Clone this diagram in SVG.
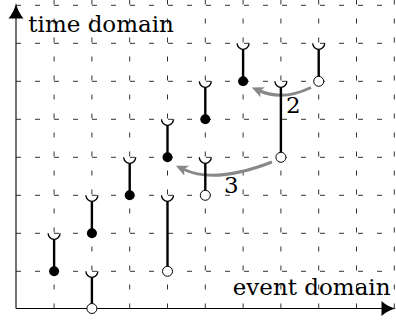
<svg xmlns="http://www.w3.org/2000/svg" width="396" height="322" viewBox="0 0 396 322">
<defs>
<style>
.grid line{stroke:#333;stroke-width:1;stroke-dasharray:5 14;fill:none}
.axis{stroke:#000;stroke-width:1.1;fill:none}
.seg{stroke:#000;stroke-width:2.4;fill:none}
.cup{stroke:#000;stroke-width:1.3;fill:none}
.full{fill:#000}
.hollow{fill:#fff;stroke:#000;stroke-width:1}
.move{stroke:#888;stroke-width:3;fill:none;marker-end:url(#ga)}
text{font-family:"DejaVu Serif","Liberation Serif",serif;font-size:23px;fill:#000}
</style>
<marker id="ga" markerUnits="userSpaceOnUse" markerWidth="14" markerHeight="12" refX="3" refY="6" orient="auto" viewBox="0 0 14 12">
<path d="M0,0.5 L12,6 L0,11.5 L3,6 Z" fill="#888"/>
</marker>
</defs>
<rect width="396" height="322" fill="#fff"/>
<g class="grid" id="grid">
<line x1="16" y1="271.3" x2="396" y2="271.3"/>
<line x1="16" y1="233.3" x2="396" y2="233.3"/>
<line x1="16" y1="195.3" x2="396" y2="195.3"/>
<line x1="16" y1="157.3" x2="396" y2="157.3"/>
<line x1="16" y1="119.3" x2="396" y2="119.3"/>
<line x1="16" y1="81.3" x2="396" y2="81.3"/>
<line x1="16" y1="43.3" x2="396" y2="43.3"/>
<line x1="16" y1="5.3" x2="396" y2="5.3"/>
<line x1="54.1" y1="308.5" x2="54.1" y2="0"/>
<line x1="91.9" y1="308.5" x2="91.9" y2="0"/>
<line x1="129.7" y1="308.5" x2="129.7" y2="0"/>
<line x1="167.5" y1="308.5" x2="167.5" y2="0"/>
<line x1="205.3" y1="308.5" x2="205.3" y2="0"/>
<line x1="243.1" y1="308.5" x2="243.1" y2="0"/>
<line x1="280.9" y1="308.5" x2="280.9" y2="0"/>
<line x1="318.7" y1="308.5" x2="318.7" y2="0"/>
<line x1="356.5" y1="308.5" x2="356.5" y2="0"/>
<line x1="394.3" y1="308.5" x2="394.3" y2="0"/>
</g>
<g id="axes">
<line class="axis" x1="16" y1="308.5" x2="16" y2="14"/>
<path d="M16,3 Q17.5,11 23.5,18.5 L8.5,18.5 Q14.5,11 16,3 Z" fill="#000"/>
<line class="axis" x1="16" y1="308.5" x2="386" y2="308.5"/>
<path d="M396,308.5 Q388,310 381.5,316 L381.5,301 Q388,307 396,308.5 Z" fill="#000"/>
<text x="28.3" y="31.7">time domain</text>
<text x="232.7" y="295">event domain</text>
</g>
<g id="connectors">
<path id="move2" class="move" d="M311,87.5 Q283,101 260,91"/>
<path id="move3" class="move" d="M272,162 Q215,184 184,169.5"/>
<text x="286" y="113">2</text>
<text x="224" y="193">3</text>
</g>
<g id="i1a"><line class="seg" x1="54.1" y1="271.3" x2="54.1" y2="239.3"/><path class="cup" d="M48.1,233.3 A6,6 0 0 0 60.1,233.3"/><circle class="full" cx="54.1" cy="271.3" r="5"/></g>
<g id="i2a"><line class="seg" x1="91.9" y1="308.5" x2="91.9" y2="277.3"/><path class="cup" d="M85.9,271.3 A6,6 0 0 0 97.9,271.3"/><circle class="hollow" cx="91.9" cy="308.5" r="5"/></g>
<g id="i2b"><line class="seg" x1="91.9" y1="233.3" x2="91.9" y2="201.3"/><path class="cup" d="M85.9,195.3 A6,6 0 0 0 97.9,195.3"/><circle class="full" cx="91.9" cy="233.3" r="5"/></g>
<g id="i3a"><line class="seg" x1="129.7" y1="195.3" x2="129.7" y2="163.3"/><path class="cup" d="M123.7,157.3 A6,6 0 0 0 135.7,157.3"/><circle class="full" cx="129.7" cy="195.3" r="5"/></g>
<g id="i4a"><line class="seg" x1="167.5" y1="271.3" x2="167.5" y2="201.3"/><path class="cup" d="M161.5,195.3 A6,6 0 0 0 173.5,195.3"/><circle class="hollow" cx="167.5" cy="271.3" r="5"/></g>
<g id="i4b"><line class="seg" x1="167.5" y1="157.3" x2="167.5" y2="125.3"/><path class="cup" d="M161.5,119.3 A6,6 0 0 0 173.5,119.3"/><circle class="full" cx="167.5" cy="157.3" r="5"/></g>
<g id="i5a"><line class="seg" x1="205.3" y1="195.3" x2="205.3" y2="163.3"/><path class="cup" d="M199.3,157.3 A6,6 0 0 0 211.3,157.3"/><circle class="hollow" cx="205.3" cy="195.3" r="5"/></g>
<g id="i5b"><line class="seg" x1="205.3" y1="119.3" x2="205.3" y2="87.3"/><path class="cup" d="M199.3,81.3 A6,6 0 0 0 211.3,81.3"/><circle class="full" cx="205.3" cy="119.3" r="5"/></g>
<g id="i6a"><line class="seg" x1="243.1" y1="81.3" x2="243.1" y2="49.3"/><path class="cup" d="M237.1,43.3 A6,6 0 0 0 249.1,43.3"/><circle class="full" cx="243.1" cy="81.3" r="5"/></g>
<g id="i7a"><line class="seg" x1="280.9" y1="157.3" x2="280.9" y2="87.3"/><path class="cup" d="M274.9,81.3 A6,6 0 0 0 286.9,81.3"/><circle class="hollow" cx="280.9" cy="157.3" r="5"/></g>
<g id="i8a"><line class="seg" x1="318.7" y1="81.3" x2="318.7" y2="49.3"/><path class="cup" d="M312.7,43.3 A6,6 0 0 0 324.7,43.3"/><circle class="hollow" cx="318.7" cy="81.3" r="5"/></g>
</svg>
